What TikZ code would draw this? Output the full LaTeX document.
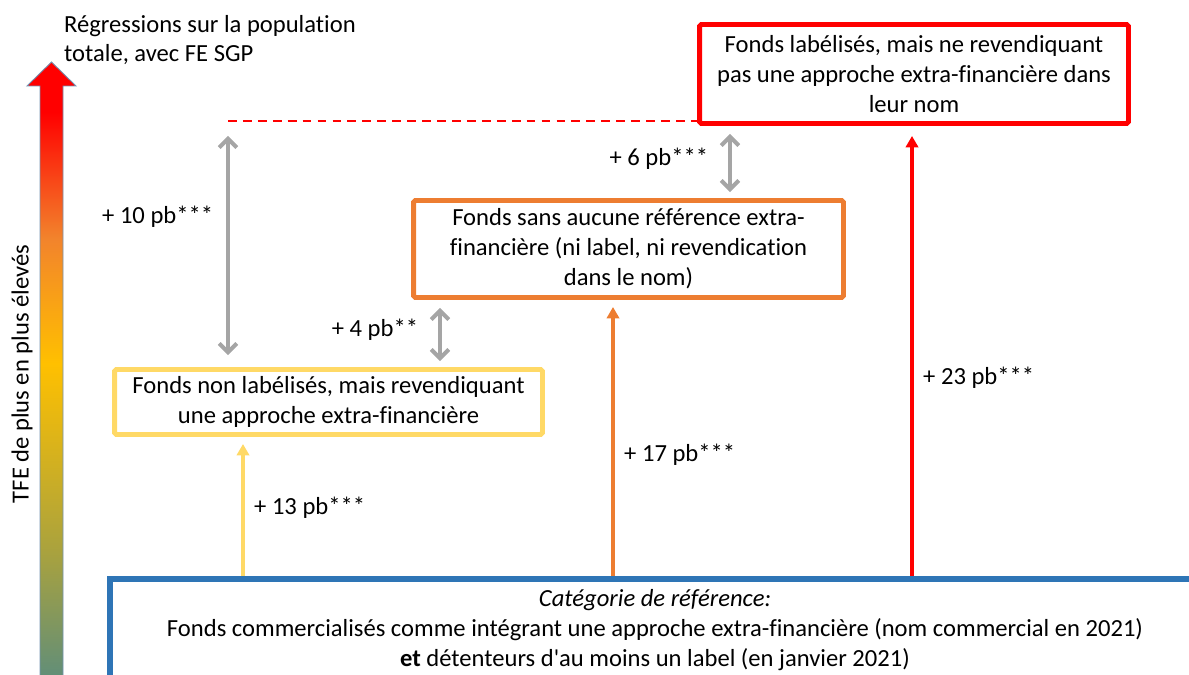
\documentclass[tikz,border=0pt]{standalone}
\usepackage{fontspec}
\setmainfont{Carlito}
\newfontfamily\textebrut[Ligatures=NoCommon]{Carlito}
\usetikzlibrary{arrows.meta}

\definecolor{tferouge}{HTML}{FF0000}
\definecolor{tfeorange}{HTML}{ED7D31}
\definecolor{tfejaune}{HTML}{FFD966}
\definecolor{tfebleu}{HTML}{2E75B6}
\definecolor{tfegris}{HTML}{A5A5A5}
\definecolor{tfevert}{HTML}{5A8C7E}
\definecolor{tfeolive}{HTML}{A9A23E}
\definecolor{tfeor}{HTML}{FFC000}
\definecolor{tfeorclair}{HTML}{F2832C}
\definecolor{tfecontour}{HTML}{7393B3}

\pgfdeclareverticalshading{tfeshade}{100bp}{color(0bp)=(tfevert); color(25bp)=(tfevert); color(36bp)=(tfeolive); color(51bp)=(tfeor); color(61bp)=(tfeorclair); color(71bp)=(tferouge); color(100bp)=(tferouge)}

\tikzset{
  fondsbox/.style={draw, line width=2.8pt, rounded corners=1pt, align=center, inner sep=0pt},
  ecart/.style={tfegris, line width=2.3pt, {Straight Barb[length=5pt,width=10pt]}-{Straight Barb[length=5pt,width=10pt]}},
  hausse/.style={line width=2.1pt, -{Triangle[length=6.5pt,width=7pt]}}
}

\begin{document}
\begin{tikzpicture}[x=0.02cm, y=-0.02cm, font=\textebrut\fontsize{14}{17}\selectfont]
\useasboundingbox (0,0) rectangle (1189,675);
\clip (0,0) rectangle (1189,675);

% Axe TFE
\shade[shading=tfeshade, draw=tfecontour, line width=0.5pt]
  (40,690) -- (40,86) -- (27,86) -- (51.5,62) -- (76,86) -- (63,86) -- (63,690) -- cycle;
\node[rotate=90] (tfe) at (22,374) {TFE de plus en plus élevés};
\node[anchor=west, align=left] (titre) at (58,40) {Régressions sur la population\\totale, avec FE SGP};

% Categories
\node[fondsbox, draw=tferouge, minimum width=8.58cm, minimum height=1.98cm] (rouge) at (914,74)
  {Fonds labélisés, mais ne revendiquant\\pas une approche extra-financière dans\\leur nom};
\node[fondsbox, draw=tfeorange, minimum width=8.6cm, minimum height=1.94cm] (orange) at (628.5,249)
  {Fonds sans aucune référence extra-\\financière (ni label, ni revendication\\dans le nom)};
\node[fondsbox, draw=tfejaune, minimum width=8.56cm, minimum height=1.3cm] (jaune) at (328.5,402)
  {Fonds non labélisés, mais revendiquant\\une approche extra-financière};
\node[draw=tfebleu, line width=3.4pt, minimum width=21.8cm, minimum height=2.44cm] (ref) at (655,640) {};
\node[align=center] (reftexte) at (655,630)
  {\textit{Catégorie de référence:}\\
   Fonds commercialisés comme intégrant une approche extra-financière (nom commercial en 2021)\\
   \textbf{et} détenteurs d'au moins un label (en janvier 2021)};

% Reperes
\coordinate (pointille) at (228,121);
\coordinate (x4) at (440,0);
\coordinate (x6) at (730,0);
\coordinate (x13) at (243,0);
\coordinate (x17) at (613,0);
\coordinate (x23) at (912,0);

\draw[tferouge, line width=1.3pt, dash pattern=on 5pt off 3.5pt] (pointille) -- (pointille -| rouge.west);

% Ecarts
\draw[ecart, shorten <=8.5pt, shorten >=6.8pt] (pointille) to node[left, pos=0.39, black, xshift=-4pt] {+ 10 pb***} (pointille |- jaune.north);
\draw[ecart, shorten <=3.4pt, shorten >=4.5pt] (x4 |- jaune.north) to node[left, pos=0.55, black, xshift=-8pt] {+ 4 pb**} (x4 |- orange.south);
\draw[ecart, shorten <=3.4pt, shorten >=4.5pt] (x6 |- orange.north) to node[left, pos=0.55, black, xshift=-8pt] {+ 6 pb***} (x6 |- rouge.south);

% Hausses depuis la reference
\draw[hausse, tfejaune, shorten >=4pt] (x13 |- ref.north) to node[right, pos=0.49, black, xshift=2pt] {+ 13 pb***} (x13 |- jaune.south);
\draw[hausse, tfeorange, shorten >=4pt] (x17 |- ref.north) to node[right, pos=0.44, black, xshift=2pt] {+ 17 pb***} (x17 |- orange.south);
\draw[hausse, tferouge, shorten >=5.7pt] (x23 |- ref.north) to node[right, pos=0.44, black, xshift=2pt] {+ 23 pb***} (x23 |- rouge.south);

\end{tikzpicture}
\end{document}
